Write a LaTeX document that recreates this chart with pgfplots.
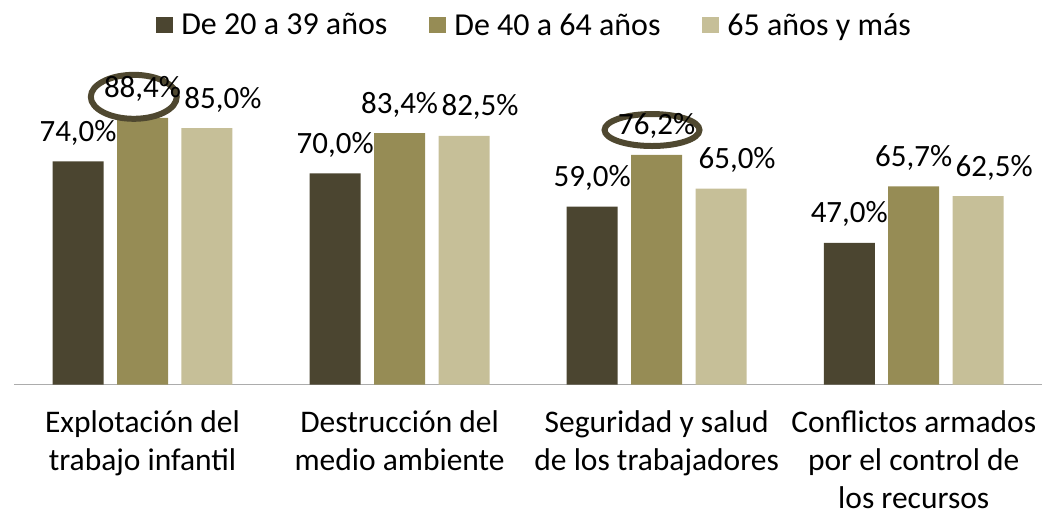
\documentclass[border=0pt]{standalone}
\usepackage{pgfplots}
\pgfplotsset{compat=1.18}
\usepackage{fontspec}
\setmainfont{Carlito}
\definecolor{cA}{HTML}{4B4530}
\definecolor{cB}{HTML}{968C55}
\definecolor{cC}{HTML}{C6BF98}
\definecolor{cE}{HTML}{4F4830}
\begin{document}
\begin{tikzpicture}
\begin{axis}[
  name=ax,
  scale only axis,
  width=1029pt, height=302pt,
  xmin=-0.5, xmax=3.5, ymin=0, ymax=100,
  ybar=13.5pt, bar width=51pt,
  axis x line=bottom, axis y line=none,
  x axis line style={-, draw=gray!65, line width=1.5pt},
  xtick={0,1,2,3}, major tick length=0pt,
  xticklabels={{Explotación del\\trabajo infantil},{Destrucción del\\medio ambiente},{Seguridad y salud\\de los trabajadores},{Conflictos armados\\por el control de\\los recursos}},
  xticklabel style={align=center, font=\fontsize{31.5}{38}\selectfont, inner ysep=0pt, yshift=-26pt},
  ytick=\empty,
  clip=false,
  /pgf/number format/assume math mode=true,
  nodes near coords={\pgfmathprintnumber[fixed,fixed zerofill,precision=1,use comma]{\pgfplotspointmeta}\%},
  every node near coord/.append style={font=\fontsize{31}{38}\selectfont, text=black, anchor=base, yshift=20pt, inner sep=0pt},
  legend columns=3,
  legend style={draw=none, fill=none, at={(0.5063,1.192)}, anchor=center,
    font=\fontsize{32}{38}\selectfont,
    /tikz/every odd column/.append style={column sep=6pt},
    /tikz/every even column/.append style={column sep=40pt}},
]
\addplot[fill=cA, draw=none, legend image code/.code={\fill[cA] (0pt,-8.5pt) rectangle (17pt,8.5pt);}] coordinates {(0,74.0) (1,70.0) (2,59.0) (3,47.0)};
\addplot[fill=cB, draw=none, legend image code/.code={\fill[cB] (0pt,-8.5pt) rectangle (17pt,8.5pt);}] coordinates {(0,88.4) (1,83.4) (2,76.2) (3,65.7)};
\addplot[fill=cC, draw=none, every node near coord/.append style={xshift=16pt}, legend image code/.code={\fill[cC] (0pt,-8.5pt) rectangle (17pt,8.5pt);}] coordinates {(0,85.0) (1,82.5) (2,65.0) (3,62.5)};
\legend{De 20 a 39 años, De 40 a 64 años, 65 años y más}
\draw[cE, line width=6pt] (axis cs:-0.034,95.4) ellipse [x radius=43pt, y radius=22pt];
\draw[cE, line width=6pt] (axis cs:1.982,84.4) ellipse [x radius=47.5pt, y radius=16pt];
\end{axis}
\path[use as bounding box] ([xshift=-14pt,yshift=-132pt]ax.south west) rectangle ([yshift=83pt]ax.north east);
\end{tikzpicture}
\end{document}
